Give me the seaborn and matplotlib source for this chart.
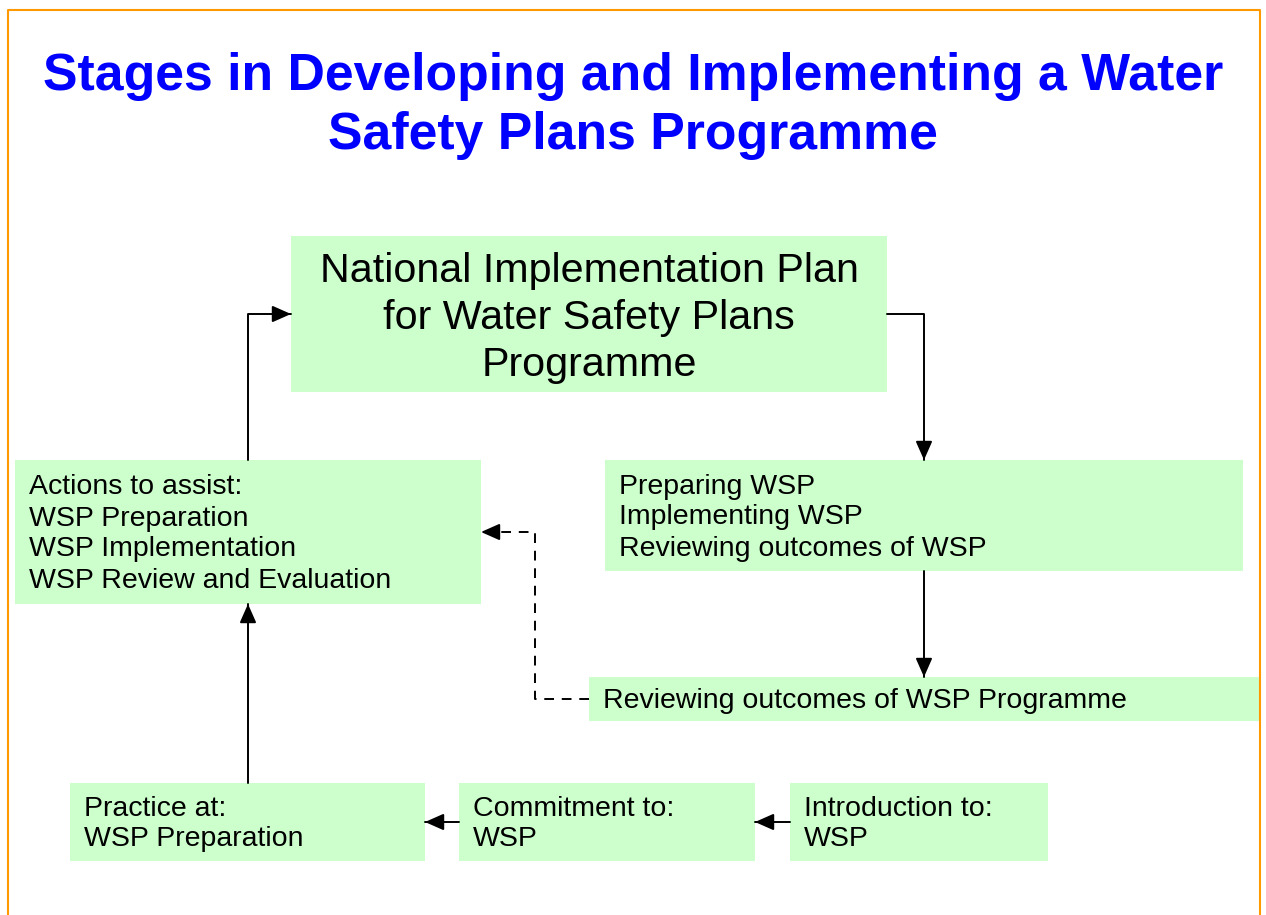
import matplotlib.pyplot as plt
import seaborn as sns
from matplotlib.patches import Rectangle

sns.set_theme(style="white")
plt.rcParams['font.family'] = ['Liberation Sans', 'DejaVu Sans']

title = "Stages in Developing and Implementing a Water\nSafety Plans Programme"

# box texts
box_texts = [
    "National Implementation Plan\nfor Water Safety Plans\nProgramme",
    "Preparing WSP\nImplementing WSP\nReviewing outcomes of WSP",
    "Actions to assist:\nWSP Preparation\nWSP Implementation\nWSP Review and Evaluation",
    "Reviewing outcomes of WSP Programme",
    "Practice at:\nWSP Preparation",
    "Commitment to:\nWSP",
    "Introduction to:\nWSP",
]

# layout (pixels): x0, y0, x1, y1
box_rects = [
    (291, 236, 887, 392),
    (605, 460, 1243, 571),
    (15, 460, 481, 604),
    (589, 677, 1259, 721),
    (70, 783, 425, 861),
    (459, 783, 755, 861),
    (790, 783, 1048, 861),
]
box_green = "#CCFFCC"

# connectors as polylines, last point gets the arrowhead
links = [
    ([(248, 460), (248, 314), (291, 314)], "solid"),
    ([(887, 314), (924, 314), (924, 460)], "solid"),
    ([(924, 571), (924, 677)], "solid"),
    ([(589, 699), (535, 699), (535, 532), (481, 532)], "dashed"),
    ([(248, 783), (248, 604)], "solid"),
    ([(790, 822), (755, 822)], "solid"),
    ([(459, 822), (425, 822)], "solid"),
]

fig = plt.figure(figsize=(12.66, 9.15), dpi=100)
ax = fig.add_axes([0, 0, 1, 1])
ax.set_xlim(0, 1266)
ax.set_ylim(915, 0)
ax.axis("off")

# orange frame
ax.plot([8, 8, 1260, 1260], [915, 10, 10, 915], color="#FF9900", lw=1.5)

ax.text(633, 106, title, ha="center", va="center", color="#0000FF",
        fontsize=37.3, fontweight="bold", linespacing=1.26)

for i, (txt, (x0, y0, x1, y1)) in enumerate(zip(box_texts, box_rects)):
    ax.add_patch(Rectangle((x0, y0), x1 - x0, y1 - y0, facecolor=box_green,
                           edgecolor="none", zorder=1))
    if i == 0:
        ax.text((x0 + x1) / 2, (y0 + y1) / 2 + 4, txt, ha="center", va="center",
                fontsize=29.7, linespacing=1.30, color="black", zorder=3)
    else:
        ax.text(x0 + 14, (y0 + y1) / 2 + 2, txt, ha="left", va="center",
                fontsize=20.5, linespacing=1.25, color="black", zorder=3)

for pts, style in links:
    xs = [p[0] for p in pts]
    ys = [p[1] for p in pts]
    ls = (0, (5, 4)) if style == "dashed" else "-"
    ax.plot(xs, ys, color="black", lw=1.4, ls=ls, zorder=2)
    # arrowhead on the last few pixels of the final segment
    (px, py), (ex, ey) = pts[-2], pts[-1]
    dx, dy = ex - px, ey - py
    d = (dx ** 2 + dy ** 2) ** 0.5
    start = (ex - dx / d * 14, ey - dy / d * 14)
    ax.annotate("", xy=(ex, ey), xytext=start,
                arrowprops=dict(arrowstyle="-|>,head_length=0.95,head_width=0.42",
                                color="black", lw=1.4,
                                shrinkA=0, shrinkB=0, mutation_scale=12),
                zorder=2)

fig.savefig("out.png", dpi=100)
